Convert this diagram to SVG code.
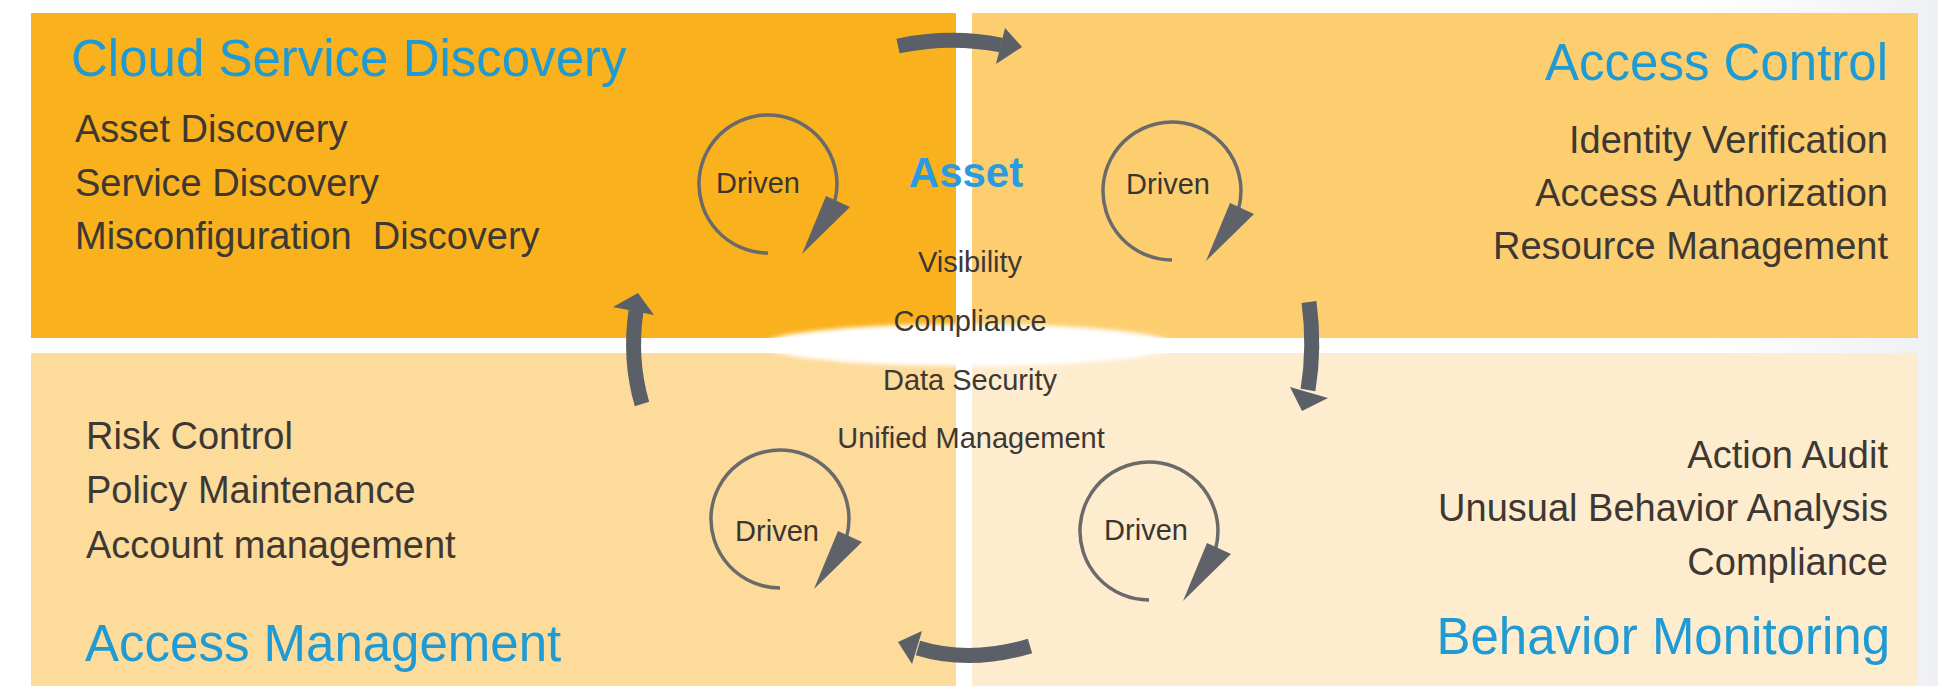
<svg xmlns="http://www.w3.org/2000/svg" xmlns:xlink="http://www.w3.org/1999/xlink" width="1938" height="686" viewBox="0 0 1938 686">
<style>
text{font-family:"Liberation Sans",Arial,"Noto Sans",sans-serif}
.title{font-size:51px;fill:#1F9AD3}
.item{font-size:38px;fill:#3D3832}
.drv{font-size:29px;fill:#3A3530;text-anchor:middle}
.ctr{font-size:29px;fill:#3D3832;text-anchor:middle}
.asset{font-size:42px;font-weight:bold;fill:#2A9BE0;text-anchor:middle}
.end{text-anchor:end}
.ring{fill:none;stroke:#6A6A6A;stroke-width:3.5}
.ringhead{fill:#5F6268}
.flow{fill:none;stroke:#5B5F67;stroke-width:15}
.flowhead{fill:#5B5F67}
</style>
<defs>
<g id="cycle">
<path class="ring" d="M 0 69 A 69 69 0 1 1 66.6 17.9"/>
<polygon class="ringhead" points="58,12 82,23 34,70"/>
</g>
<filter id="soft" x="-10%" y="-100%" width="120%" height="300%"><feGaussianBlur stdDeviation="2"/></filter>
<linearGradient id="bgfade" x1="0" y1="0" x2="1" y2="0">
<stop offset="0" stop-color="#EEF0F3" stop-opacity="0"/>
<stop offset="1" stop-color="#EEF0F3" stop-opacity="1"/>
</linearGradient>
</defs>
<rect x="0" y="0" width="1938" height="686" fill="#FFFFFF"/>
<rect x="1700" y="0" width="238" height="686" fill="url(#bgfade)"/>

<g id="cloud-service-discovery">
<rect x="31" y="13" width="925" height="325" fill="#F9B21D"/>
<text class="title" x="71" y="76">Cloud Service Discovery</text>
<text class="item" x="75" y="142">Asset Discovery</text>
<text class="item" x="75" y="196">Service Discovery</text>
<text class="item" x="75" y="249" xml:space="preserve">Misconfiguration  Discovery</text>
</g>

<g id="access-control">
<rect x="972" y="13" width="946" height="325" fill="#FCCE6F"/>
<text class="title end" x="1888" y="80">Access Control</text>
<text class="item end" x="1888" y="153">Identity Verification</text>
<text class="item end" x="1888" y="206">Access Authorization</text>
<text class="item end" x="1888" y="259">Resource Management</text>
</g>

<g id="access-management">
<rect x="31" y="353" width="925" height="333" fill="#FDDB9B"/>
<text class="item" x="86" y="449">Risk Control</text>
<text class="item" x="86" y="503">Policy Maintenance</text>
<text class="item" x="86" y="558">Account management</text>
<text class="title" x="85" y="661">Access Management</text>
</g>

<g id="behavior-monitoring">
<rect x="972" y="353" width="946" height="333" fill="#FEECCF"/>
<text class="item end" x="1888" y="468">Action Audit</text>
<text class="item end" x="1888" y="521">Unusual Behavior Analysis</text>
<text class="item end" x="1888" y="575">Compliance</text>
<text class="title end" x="1890" y="654">Behavior Monitoring</text>
</g>

<ellipse cx="968" cy="345" rx="206" ry="21" fill="#FFFFFF" filter="url(#soft)"/>

<g id="asset">
<text class="asset" x="966" y="187">Asset</text>
<text class="ctr" x="970" y="272">Visibility</text>
<text class="ctr" x="970" y="331">Compliance</text>
<text class="ctr" x="970" y="390">Data Security</text>
<text class="ctr" x="971" y="448">Unified Management</text>
</g>

<g id="driven-cloud">
<use xlink:href="#cycle" x="768" y="184"/>
<text class="drv" x="758" y="193">Driven</text>
</g>
<g id="driven-access-control">
<use xlink:href="#cycle" x="1172" y="191"/>
<text class="drv" x="1168" y="194">Driven</text>
</g>
<g id="driven-access-management">
<use xlink:href="#cycle" x="780" y="519"/>
<text class="drv" x="777" y="541">Driven</text>
</g>
<g id="driven-behavior">
<use xlink:href="#cycle" x="1149" y="531"/>
<text class="drv" x="1146" y="540">Driven</text>
</g>

<g id="connectors">
<path class="flow" d="M 898 46 Q 950 35 1001 45"/>
<polygon class="flowhead" points="1005,28 1022,47 996,64"/>
<path class="flow" d="M 1309 302 Q 1315 347 1308 390"/>
<polygon class="flowhead" points="1290,387 1328,398 1302,411"/>
<path class="flow" d="M 1030 646 Q 970 664 918 648"/>
<polygon class="flowhead" points="922,631 898,642 912,664"/>
<path class="flow" d="M 642 404 Q 629 360 636 311"/>
<polygon class="flowhead" points="613,307 638,293 654,315"/>
</g>
</svg>
